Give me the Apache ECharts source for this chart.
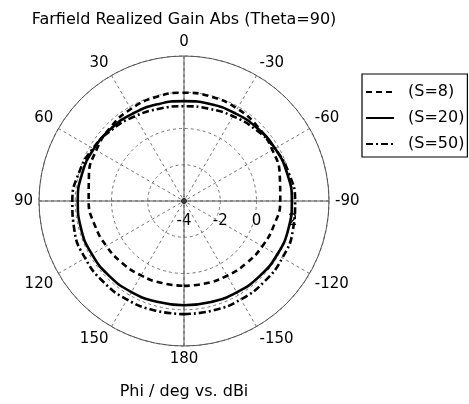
<!DOCTYPE html>
<html>
<head>
<meta charset="utf-8">
<script src="https://cdn.jsdelivr.net/npm/echarts@6/dist/echarts.min.js"></script>
<style>html,body{margin:0;padding:0;background:#fff;}#c{width:469px;height:404px;}</style>
</head>
<body>
<div id="c"></div>
<script>
var titleText = 'Farfield Realized Gain Abs (Theta=90)';
var axisTitle = 'Phi / deg vs. dBi';
var seriesNames = ['(S=8)', '(S=20)', '(S=50)'];
var phi = [-180,-165,-150,-135,-120,-105,-90,-75,-60,-45,-30,-15,0,15,30,45,60,75,90,105,120,135,150,165,180];
var s8  = [0.68,0.70,0.76,0.86,0.99,1.14,1.31,1.47,1.63,1.77,1.88,1.95,1.97,1.94,1.86,1.74,1.59,1.43,1.26,1.10,0.95,0.83,0.74,0.69,0.68];
var s20 = [1.75,1.77,1.82,1.88,1.93,1.96,1.95,1.89,1.80,1.70,1.60,1.54,1.51,1.53,1.59,1.67,1.75,1.82,1.86,1.88,1.87,1.84,1.80,1.76,1.75];
var s50 = [2.24,2.25,2.27,2.28,2.27,2.22,2.13,1.98,1.79,1.58,1.40,1.27,1.23,1.27,1.40,1.59,1.80,2.00,2.16,2.26,2.30,2.30,2.28,2.25,2.24];
var radiusMin = -4, radiusMax = 4, radiusStep = 2;

var FONT = 'DejaVu Sans';
function toPolar(vals){ return vals.map(function(v,i){ return [v, phi[i]]; }); }

var chart = echarts.init(document.getElementById('c'), null, {renderer:'canvas'});
var curveWidth = 2.6;
var option = {
  animation: false,
  backgroundColor: '#fff',
  textStyle: {fontFamily: FONT},
  polar: {center: [184, 201], radius: 145},
  angleAxis: {
    type: 'value', min: -90, max: 270, interval: 30, startAngle: 0, clockwise: false,
    axisLine: {show: true, lineStyle: {color: '#555', width: 1}},
    axisTick: {show: false},
    axisLabel: {show: true, margin: 6, color: '#000', fontSize: 15, fontFamily: FONT,
      formatter: function(v){ v = Math.round(v); if (v === 270) return ''; return String(v > 180 ? v - 360 : v); }},
    splitLine: {show: true, lineStyle: {color: '#777', width: 1, type: [3, 3]}}
  },
  radiusAxis: {
    type: 'value', min: radiusMin, max: radiusMax, interval: radiusStep,
    axisLine: {show: false}, axisTick: {show: false},
    axisLabel: {show: true, color: '#000', fontSize: 15, fontFamily: FONT, margin: -13, verticalAlign: 'top',
      formatter: function(v){ return v >= radiusMax ? '' : String(v); }},
    splitLine: {show: true, lineStyle: {color: '#777', width: 1, type: [3, 3]}}
  },
  legend: {
    orient: 'vertical', left: 362, top: 74, data: seriesNames,
    backgroundColor: '#fff', borderColor: '#000', borderWidth: 1.2,
    padding: [10, 3, 5, 3], itemGap: 10, itemWidth: 28, itemHeight: 16,
    itemStyle: {opacity: 0},
    textStyle: {fontSize: 16, color: '#000', fontFamily: FONT, padding: [0, 0, 0, 9]}
  },
  graphic: [
    {type: 'text', x: 184, y: 20, style: {text: titleText, fontSize: 16, fontFamily: FONT, fill: '#000', textAlign: 'center', textVerticalAlign: 'middle'}},
    {type: 'text', x: 184, y: 392, style: {text: axisTitle, fontSize: 16, fontFamily: FONT, fill: '#000', textAlign: 'center', textVerticalAlign: 'middle'}}
  ],
  series: [
    {name: 'axisV', type: 'line', coordinateSystem: 'polar', data: [[radiusMax, 0], [radiusMax, 180]], symbol: 'none', silent: true, clip: false, lineStyle: {color: '#555', width: 1}, z: 1},
    {name: 'axisH', type: 'line', coordinateSystem: 'polar', data: [[radiusMax, 90], [radiusMax, -90]], symbol: 'none', silent: true, clip: false, lineStyle: {color: '#555', width: 1}, z: 1},
    {name: 'center', type: 'scatter', coordinateSystem: 'polar', data: [[radiusMin, 0]], symbol: 'circle', symbolSize: 5, silent: true, itemStyle: {color: '#333', borderColor: '#000', borderWidth: 1}, z: 2},
    {name: seriesNames[0], type: 'line', coordinateSystem: 'polar', data: toPolar(s8), smooth: true, symbol: 'none', clip: false, lineStyle: {color: '#000', width: curveWidth, type: [6, 4]}, itemStyle: {color: '#000'}, z: 5},
    {name: seriesNames[1], type: 'line', coordinateSystem: 'polar', data: toPolar(s20), smooth: true, symbol: 'none', clip: false, lineStyle: {color: '#000', width: curveWidth, type: 'solid'}, itemStyle: {color: '#000'}, z: 5},
    {name: seriesNames[2], type: 'line', coordinateSystem: 'polar', data: toPolar(s50), smooth: true, symbol: 'none', clip: false, lineStyle: {color: '#000', width: curveWidth, type: [7, 3, 2, 3]}, itemStyle: {color: '#000'}, z: 5}
  ]
};
chart.setOption(option);
</script>
</body>
</html>
